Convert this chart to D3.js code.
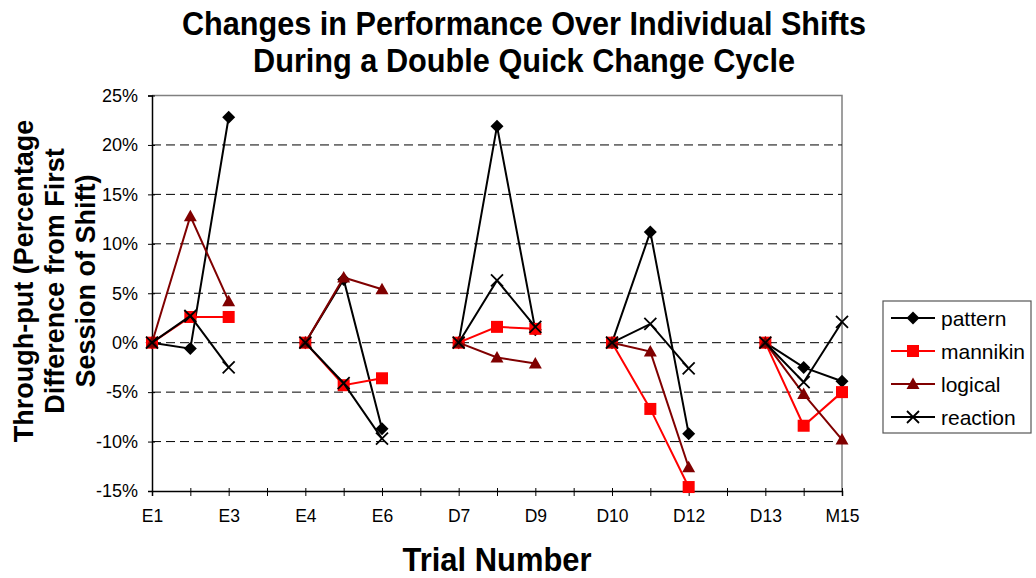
<!DOCTYPE html>
<html>
<head>
<meta charset="utf-8">
<script src="https://cdn.jsdelivr.net/npm/d3@7"></script>
<style>
  html, body { margin: 0; padding: 0; background: #fff; }
  svg { display: block; font-family: "Liberation Sans", Arial, sans-serif; }
</style>
</head>
<body>
<svg id="chart" width="1036" height="578"></svg>
<script>
// Trial sequence: three shifts per cycle, with an empty slot between cycles
const categories = ["E1", "E2", "E3", "", "E4", "E5", "E6", "", "D7", "D8", "D9", "",
                    "D10", "D11", "D12", "", "D13", "D14", "M15"];

// Percentage difference from the first session of each shift
const pattern  = [0, -0.6, 22.8, null, 0, 6.4, -8.7, null, 0, 21.9, 1.3, null, 0, 11.2, -9.2, null, 0, -2.5, -3.9];
const mannikin = [0, 2.6, 2.6, null, 0, -4.3, -3.6, null, 0, 1.6, 1.4, null, 0, -6.7, -14.6, null, 0, -8.4, -5.0];
const logical  = [0, 12.8, 4.2, null, 0, 6.6, 5.4, null, 0, -1.5, -2.1, null, 0, -0.9, -12.6, null, 0, -5.2, -9.8];
const reaction = [0, 2.7, -2.5, null, 0, -4.1, -9.7, null, 0, 6.3, 1.6, null, 0, 1.9, -2.6, null, 0, -4.0, 2.1];

const yTicks = [-15, -10, -5, 0, 5, 10, 15, 20, 25];

const seriesNames = ["pattern", "mannikin", "logical", "reaction"];

const series = [
  { name: "pattern",  values: pattern,  color: "#000000", marker: "diamond" },
  { name: "mannikin", values: mannikin, color: "#ff0000", marker: "square" },
  { name: "logical",  values: logical,  color: "#800000", marker: "triangle" },
  { name: "reaction", values: reaction, color: "#000000", marker: "cross" }
];

const svg = d3.select("#chart");
const plot = { left: 152, right: 842, top: 95.5, bottom: 491 };

const x = d3.scalePoint()
  .domain(d3.range(categories.length))
  .range([plot.left, plot.right]);

const y = d3.scaleLinear()
  .domain([-15, 25])
  .range([plot.bottom, plot.top]);

// Titles
const title = svg.append("g").attr("font-weight", "bold").attr("text-anchor", "middle")
  .attr("font-size", 33).attr("fill", "#000");
title.append("text").attr("x", 524).attr("y", 35)
  .attr("textLength", 684).attr("lengthAdjust", "spacingAndGlyphs")
  .text("Changes in Performance Over Individual Shifts");
title.append("text").attr("x", 524).attr("y", 72)
  .attr("textLength", 542).attr("lengthAdjust", "spacingAndGlyphs")
  .text("During a Double Quick Change Cycle");

svg.append("text")
  .attr("x", (plot.left + plot.right) / 2).attr("y", 571)
  .attr("text-anchor", "middle").attr("font-weight", "bold").attr("font-size", 33)
  .attr("textLength", 189).attr("lengthAdjust", "spacingAndGlyphs")
  .text("Trial Number");

const yTitleLines = ["Through-put (Percentage", "Difference from First", "Session of Shift)"];
const yTitleX = [33, 64, 95];
const yTitle = svg.append("g").attr("font-weight", "bold").attr("font-size", 27)
  .attr("text-anchor", "middle");
yTitleLines.forEach((line, i) => {
  yTitle.append("text")
    .attr("transform", `translate(${yTitleX[i]},281) rotate(-90)`)
    .text(line);
});

// Plot area frame (top and right edges)
svg.append("path")
  .attr("d", `M${plot.left},${plot.top}H${plot.right}V${plot.bottom}`)
  .attr("fill", "none").attr("stroke", "#808080").attr("stroke-width", 1.5);

// Dashed horizontal gridlines
svg.append("g").selectAll("line")
  .data(yTicks.filter(t => t > -15 && t < 25))
  .join("line")
  .attr("x1", plot.left).attr("x2", plot.right)
  .attr("y1", d => y(d)).attr("y2", d => y(d))
  .attr("stroke", "#000").attr("stroke-width", 1)
  .attr("stroke-dasharray", "9,5");

// Y axis
const yAxis = svg.append("g")
  .attr("transform", `translate(${plot.left},0)`)
  .call(d3.axisLeft(y).tickValues(yTicks).tickFormat(d => d + "%").tickSize(4).tickPadding(10));
yAxis.select(".domain").attr("stroke", "#000").attr("stroke-width", 1.5);
yAxis.selectAll(".tick line").attr("x2", 3).attr("x1", -4).attr("stroke", "#000");
yAxis.selectAll(".tick text").attr("font-size", 18).attr("font-family", "Liberation Sans, Arial, sans-serif").attr("fill", "#000");

// X axis
const xAxis = svg.append("g")
  .attr("transform", `translate(0,${plot.bottom})`)
  .call(d3.axisBottom(x).tickSize(5).tickPadding(14)
    .tickFormat(i => (i % 2 === 0 ? categories[i] : "")));
xAxis.select(".domain").attr("stroke", "#000").attr("stroke-width", 1.5);
xAxis.selectAll(".tick line").attr("y1", -3).attr("y2", 5).attr("stroke", "#000");
xAxis.selectAll(".tick text").attr("font-size", 17.5).attr("font-family", "Liberation Sans, Arial, sans-serif").attr("fill", "#000");

// Marker drawing helper
function drawMarker(g, type, color) {
  if (type === "diamond") {
    g.append("path").attr("d", "M0,-6.5L6.5,0L0,6.5L-6.5,0Z").attr("fill", color);
  } else if (type === "square") {
    g.append("rect").attr("x", -6).attr("y", -6).attr("width", 12).attr("height", 12).attr("fill", color);
  } else if (type === "triangle") {
    g.append("path").attr("d", "M0,-6.5L6.5,5L-6.5,5Z").attr("fill", color);
  } else if (type === "cross") {
    g.append("path").attr("d", "M-6,-6L6,6M-6,6L6,-6").attr("stroke", color)
      .attr("stroke-width", 1.8).attr("fill", "none");
  }
}

const line = d3.line()
  .defined(d => d.v !== null)
  .x(d => x(d.i))
  .y(d => y(d.v));

series.forEach(s => {
  const pts = s.values.map((v, i) => ({ i, v }));
  const g = svg.append("g");
  g.append("path")
    .attr("d", line(pts))
    .attr("fill", "none")
    .attr("stroke", s.color)
    .attr("stroke-width", 2);
  pts.filter(d => d.v !== null).forEach(d => {
    const m = g.append("g").attr("transform", `translate(${x(d.i)},${y(d.v)})`);
    drawMarker(m, s.marker, s.color);
  });
});

// Legend
const legend = svg.append("g");
legend.append("rect")
  .attr("x", 883).attr("y", 301).attr("width", 148).attr("height", 132)
  .attr("fill", "#fff").attr("stroke", "#555").attr("stroke-width", 1.2);
const legendY = d3.scalePoint().domain(seriesNames).range([318, 417]);
series.forEach(s => {
  const ly = legendY(s.name);
  legend.append("line").attr("x1", 891).attr("x2", 935).attr("y1", ly).attr("y2", ly)
    .attr("stroke", s.color).attr("stroke-width", 2);
  const m = legend.append("g").attr("transform", `translate(913,${ly})`);
  drawMarker(m, s.marker, s.color);
  legend.append("text").attr("x", 941).attr("y", ly + 7.5)
    .attr("font-size", 21).attr("fill", "#000").text(s.name);
});
</script>
</body>
</html>
